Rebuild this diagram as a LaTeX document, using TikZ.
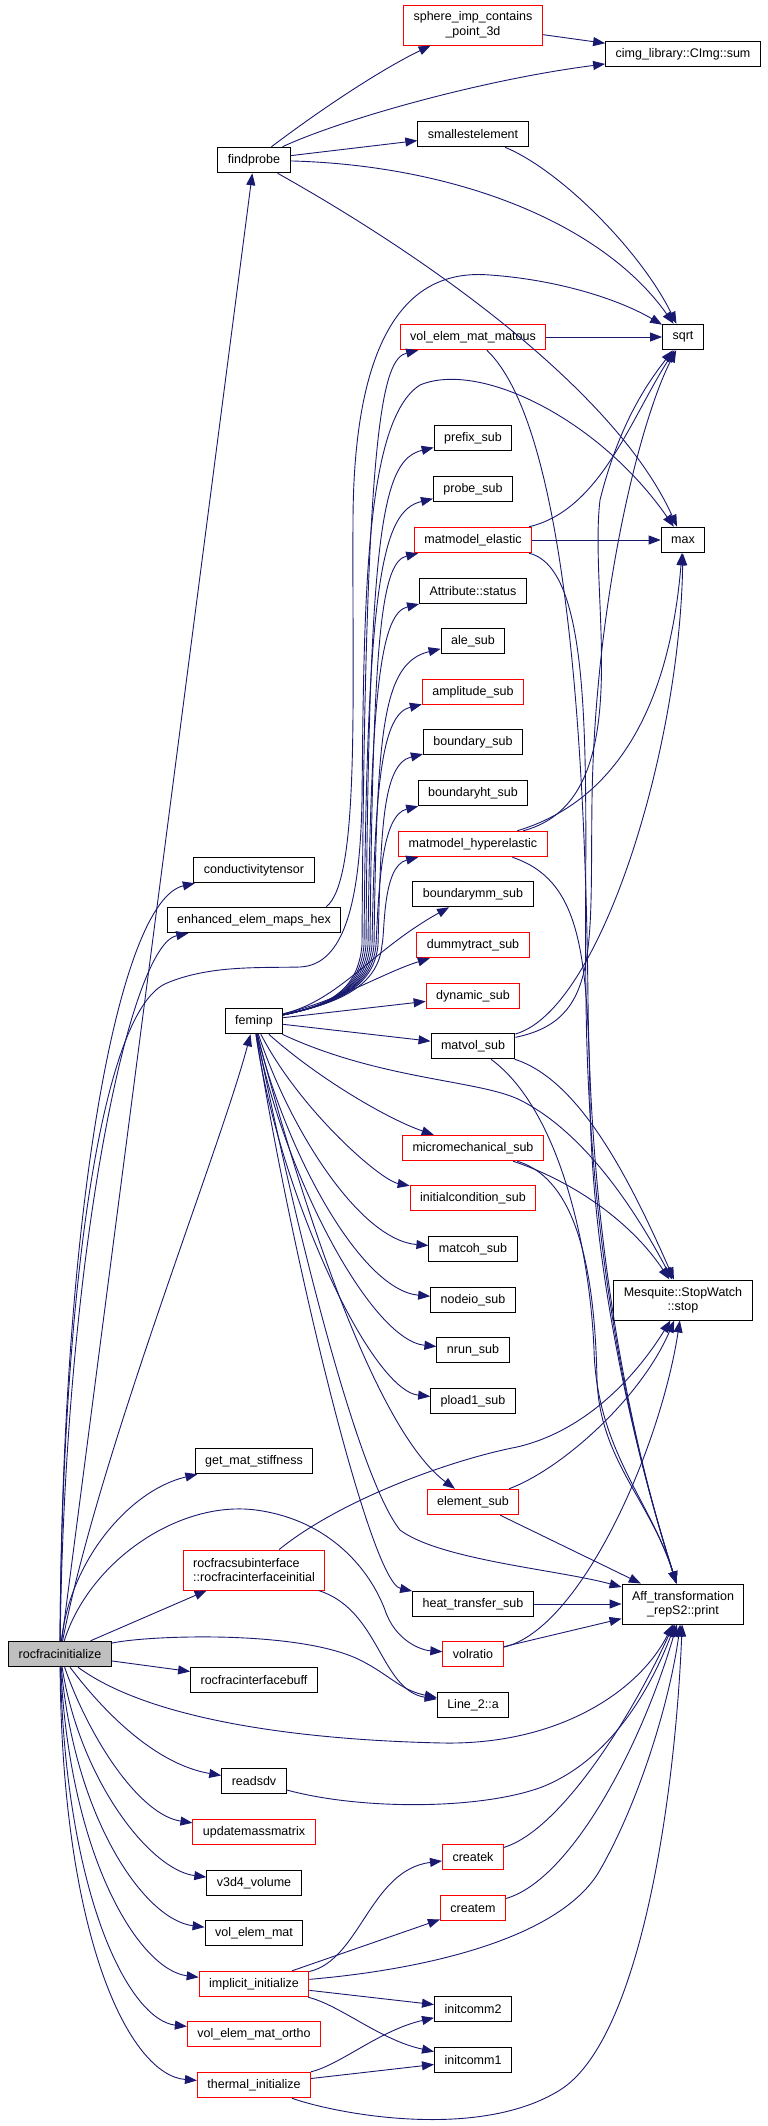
\documentclass[tikz,border=0pt]{standalone}
\usepackage{fontspec}
\setmainfont{Liberation Sans}
\usetikzlibrary{arrows.meta}
\definecolor{callblue}{HTML}{191970}
\definecolor{rootgray}{HTML}{BFBFBF}

\begin{document}
\begin{tikzpicture}[x=1pt, y=-1pt,
	fn/.style={draw=black, line width=1pt, fill=white, minimum height=25.5pt, inner xsep=10pt, inner ysep=2pt, font=\fontsize{12.5}{14.5}\selectfont},
	fnred/.style={fn, draw=red},
	fnroot/.style={fn, fill=rootgray},
	twoline/.style={minimum height=40pt, align=center},
	call/.style={draw=callblue, line width=0.9pt, -{Triangle[length=12pt,width=9pt]}}
	]
	\useasboundingbox (0,0) rectangle (768,2126);
	
	% caller
	\node[fnroot] (rfinit) at (60,1654) {rocfracinitialize};
	
	% first level
	\node[fn] (findprobe) at (254,160) {findprobe};
	\node[fn] (condtensor) at (254,870) {conductivitytensor};
	\node[fn] (enhanced) at (254,920) {enhanced\_elem\_maps\_hex};
	\node[fn] (feminp) at (254,1021) {feminp};
	\node[fn] (getmat) at (254,1461) {get\_mat\_stiffness};
	\node[fnred, twoline, align=left] (rfsub) at (254,1570) {rocfracsubinterface\\::rocfracinterfaceinitial};
	\node[fn] (rfbuff) at (254,1680) {rocfracinterfacebuff};
	\node[fn] (readsdv) at (254,1781) {readsdv};
	\node[fnred] (updmass) at (254,1832) {updatemassmatrix};
	\node[fn] (v3d4) at (254,1883) {v3d4\_volume};
	\node[fn] (volelem) at (254,1933) {vol\_elem\_mat};
	\node[fnred] (implinit) at (254,1984) {implicit\_initialize};
	\node[fnred] (volortho) at (254,2034) {vol\_elem\_mat\_ortho};
	\node[fnred] (thermal) at (254,2085) {thermal\_initialize};
	
	% second level
	\node[fnred, twoline] (sphere) at (473,25) {sphere\_imp\_contains\\\_point\_3d};
	\node[fn] (smallest) at (473,134) {smallestelement};
	\node[fnred] (vemm) at (473,337) {vol\_elem\_mat\_matous};
	\node[fn] (prefix) at (473,438) {prefix\_sub};
	\node[fn] (probe) at (473,489) {probe\_sub};
	\node[fnred] (mmelastic) at (473,540) {matmodel\_elastic};
	\node[fn] (attr) at (473,591) {Attribute::status};
	\node[fn] (ale) at (473,641) {ale\_sub};
	\node[fnred] (amplitude) at (473,692) {amplitude\_sub};
	\node[fn] (boundary) at (473,742) {boundary\_sub};
	\node[fn] (boundaryht) at (473,793) {boundaryht\_sub};
	\node[fnred] (mmhyper) at (473,844) {matmodel\_hyperelastic};
	\node[fn] (boundarymm) at (473,894) {boundarymm\_sub};
	\node[fnred] (dummy) at (473,945) {dummytract\_sub};
	\node[fnred] (dynamic) at (473,996) {dynamic\_sub};
	\node[fn] (matvol) at (473,1046) {matvol\_sub};
	\node[fnred] (micromech) at (473,1148) {micromechanical\_sub};
	\node[fnred] (initcond) at (473,1198) {initialcondition\_sub};
	\node[fn] (matcoh) at (473,1249) {matcoh\_sub};
	\node[fn] (nodeio) at (473,1300) {nodeio\_sub};
	\node[fn] (nrun) at (473,1350) {nrun\_sub};
	\node[fn] (pload) at (473,1401) {pload1\_sub};
	\node[fnred] (element) at (473,1502) {element\_sub};
	\node[fn] (heat) at (473,1604) {heat\_transfer\_sub};
	\node[fnred] (volratio) at (473,1654) {volratio};
	\node[fn] (linea) at (473,1705) {Line\_2::a};
	\node[fnred] (createk) at (473,1857) {createk};
	\node[fnred] (createm) at (473,1908) {createm};
	\node[fn] (initcomm2) at (473,2009) {initcomm2};
	\node[fn] (initcomm1) at (473,2060) {initcomm1};
	
	% leaves
	\node[fn] (cimgsum) at (683,54) {cimg\_library::CImg::sum};
	\node[fn] (sqrtn) at (683,337) {sqrt};
	\node[fn] (maxn) at (683,540) {max};
	\node[fn, twoline] (stopw) at (683,1300) {Mesquite::StopWatch\\::stop};
	\node[fn, twoline] (affprint) at (683,1604) {Aff\_transformation\\\_repS2::print};
	
	% rocfracinitialize
	\draw[call] (rfinit) -- (findprobe);
	\draw[call] (rfinit) .. controls (62,1200) and (120,900) .. (condtensor);
	\draw[call] (rfinit) .. controls (65,1250) and (130,945) .. (enhanced);
	\draw[call] (rfinit) .. controls (100,1450) and (220,1150) .. (feminp);
	\draw[call] (rfinit) .. controls (70,1560) and (130,1490) .. (getmat);
	\draw[call] (rfinit) -- (rfsub);
	\draw[call] (rfinit) -- (rfbuff);
	\draw[call] (rfinit) .. controls (150,1635) and (300,1630) .. (360,1660) .. controls (390,1675) and (400,1690) .. (linea);
	\draw[call] (rfinit) .. controls (90,1560) and (180,1500) .. (256,1510) .. controls (330,1520) and (370,1570) .. (385,1610) .. controls (395,1640) and (420,1650) .. (volratio);
	\draw[call] (rfinit) .. controls (150,1720) and (300,1740) .. (443,1743) .. controls (560,1745) and (640,1690) .. (affprint);
	\draw[call] (rfinit) .. controls (110,1720) and (160,1765) .. (readsdv);
	\draw[call] (rfinit) .. controls (90,1740) and (140,1815) .. (updmass);
	\draw[call] (rfinit) .. controls (80,1780) and (150,1870) .. (v3d4);
	\draw[call] (rfinit) .. controls (75,1820) and (145,1920) .. (volelem);
	\draw[call] (rfinit) .. controls (70,1860) and (140,1970) .. (implinit);
	\draw[call] (rfinit) .. controls (66,1900) and (130,2020) .. (volortho);
	\draw[call] (rfinit) .. controls (62,1940) and (130,2075) .. (thermal);
	\draw[call] (rfinit) .. controls (62,1300) and (100,1010) .. (167,983) .. controls (210,965) and (260,968) .. (300,967) .. controls (345,965) and (360,900) .. (362,800) .. controls (364,600) and (365,420) .. (420,385) .. controls (480,360) and (600,420) .. (maxn);
	
	% findprobe
	\draw[call] (findprobe) .. controls (320,110) and (380,70) .. (sphere);
	\draw[call] (findprobe) .. controls (340,120) and (480,80) .. (cimgsum);
	\draw[call] (findprobe) -- (smallest);
	\draw[call] (findprobe) .. controls (450,165) and (600,220) .. (sqrtn);
	\draw[call] (findprobe) .. controls (450,270) and (620,400) .. (maxn);
	\draw[call] (sphere) -- (cimgsum);
	\draw[call] (smallest) .. controls (560,170) and (640,250) .. (sqrtn);
	
	% enhanced_elem_maps_hex
	\draw[call] ([xshift=-15pt]enhanced.north east) .. controls (360,880) and (352,700) .. (353,520) .. controls (354,300) and (430,270) .. (490,275) .. controls (560,280) and (620,300) .. (sqrtn);
	
	% feminp
	\foreach \tgt/\yy/\xx in {vemm/337/358, prefix/438/362, probe/489/360, mmelastic/540/366, attr/591/364, ale/641/370, amplitude/692/368, boundary/742/374, boundaryht/793/372, mmhyper/844/378}
		\draw[call] (feminp) .. controls (330,1005) and (\xx,990) .. (\xx+4,945) .. controls (\xx+7,{\yy+90}) and (382,{\yy+22}) .. (\tgt);
	\draw[call] (feminp) .. controls (340,1000) and (372,950) .. (boundarymm);
	\draw[call] (feminp) .. controls (340,1000) and (385,972) .. (dummy);
	\draw[call] (feminp) -- (dynamic);
	\draw[call] (feminp) -- (matvol);
	\draw[call] (feminp) .. controls (320,1080) and (390,1120) .. (micromech);
	\draw[call] (feminp) .. controls (300,1110) and (380,1180) .. (initcond);
	\draw[call] (feminp) .. controls (290,1130) and (360,1240) .. (matcoh);
	\draw[call] (feminp) .. controls (285,1150) and (360,1290) .. (nodeio);
	\draw[call] (feminp) .. controls (282,1170) and (370,1340) .. (nrun);
	\draw[call] (feminp) .. controls (278,1190) and (370,1390) .. (pload);
	\draw[call] (feminp) .. controls (300,1200) and (375,1430) .. (element);
	\draw[call] (feminp) .. controls (290,1250) and (370,1582) .. (heat);
	\draw[call] (feminp) .. controls (300,1250) and (360,1480) .. (400,1530) .. controls (440,1560) and (560,1570) .. (affprint);
	\draw[call] (feminp) .. controls (380,1080) and (480,1080) .. (520,1100) .. controls (580,1130) and (630,1200) .. (stopw);
	
	% second level callees
	\draw[call] (vemm) -- (sqrtn);
	\draw[call] (vemm) .. controls (560,420) and (585,700) .. (588,1000) .. controls (591,1300) and (650,1500) .. (affprint);
	\draw[call] (mmelastic) -- (maxn);
	\draw[call] (mmelastic) .. controls (600,510) and (630,420) .. (sqrtn);
	\draw[call] (mmelastic) .. controls (600,570) and (583,800) .. (586,1000) .. controls (589,1300) and (650,1500) .. (affprint);
	\draw[call] (mmhyper) .. controls (640,800) and (588,600) .. (600,500) .. controls (620,420) and (650,380) .. (sqrtn);
	\draw[call] (mmhyper) .. controls (620,800) and (670,700) .. (maxn);
	\draw[call] (mmhyper) .. controls (580,880) and (588,950) .. (590,1100) .. controls (592,1300) and (650,1500) .. (affprint);
	\draw[call] (matvol) .. controls (600,1020) and (590,950) .. (592,800) .. controls (595,600) and (640,420) .. (sqrtn);
	\draw[call] (matvol) .. controls (600,1010) and (680,750) .. (maxn);
	\draw[call] (matvol) .. controls (580,1080) and (630,1180) .. (stopw);
	\draw[call] (matvol) .. controls (560,1110) and (590,1250) .. (594,1350) .. controls (597,1450) and (650,1500) .. (affprint);
	\draw[call] (micromech) .. controls (570,1180) and (630,1220) .. (stopw);
	\draw[call] (micromech) .. controls (580,1180) and (595,1280) .. (597,1380) .. controls (600,1460) and (650,1500) .. (affprint);
	\draw[call] (element) .. controls (560,1470) and (640,1400) .. (stopw);
	\draw[call] (element) -- (affprint);
	\draw[call] (heat) -- (affprint);
	\draw[call] (volratio) .. controls (580,1630) and (660,1450) .. (stopw);
	\draw[call] (volratio) -- (affprint);
	\draw[call] (rfsub) .. controls (340,1500) and (450,1460) .. (517,1447) .. controls (590,1430) and (640,1370) .. (stopw);
	\draw[call] (rfsub) .. controls (380,1610) and (380,1690) .. (linea);
	\draw[call] (readsdv) .. controls (360,1810) and (480,1810) .. (542,1787) .. controls (610,1760) and (650,1690) .. (affprint);
	\draw[call] (createk) .. controls (560,1830) and (630,1720) .. (affprint);
	\draw[call] (createm) .. controls (570,1880) and (640,1750) .. (affprint);
	\draw[call] (implinit) .. controls (360,1960) and (370,1870) .. (createk);
	\draw[call] (implinit) -- (createm);
	\draw[call] (implinit) -- (initcomm2);
	\draw[call] (implinit) .. controls (340,2005) and (380,2040) .. (initcomm1);
	\draw[call] (implinit) .. controls (420,1970) and (560,1940) .. (600,1870) .. controls (640,1800) and (670,1700) .. (affprint);
	\draw[call] (thermal) .. controls (340,2065) and (380,2030) .. (initcomm2);
	\draw[call] (thermal) -- (initcomm1);
	\draw[call] (thermal) .. controls (340,2115) and (480,2140) .. (560,2090) .. controls (640,2040) and (675,1800) .. (affprint);
\end{tikzpicture}
\end{document}
